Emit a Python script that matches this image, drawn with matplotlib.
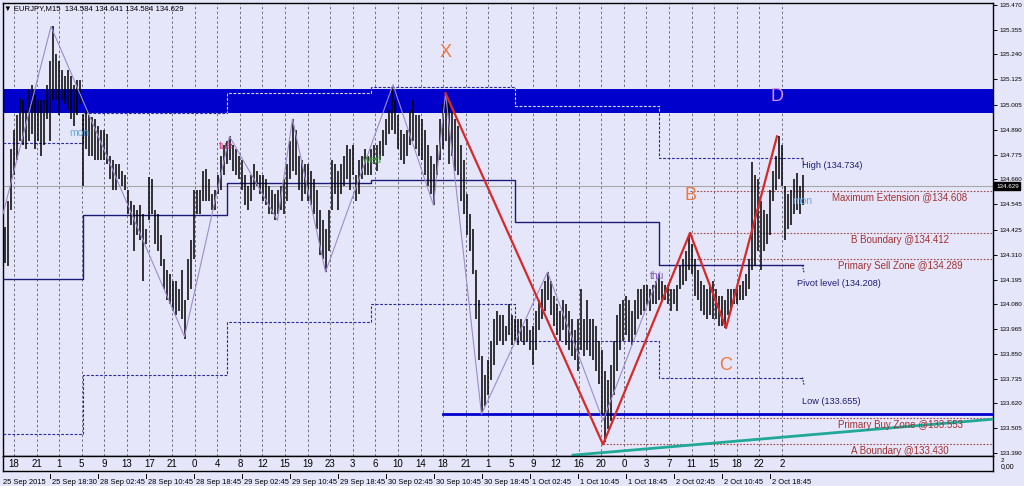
import numpy as np
import matplotlib
matplotlib.use("Agg")
import matplotlib.pyplot as plt
from matplotlib.transforms import blended_transform_factory
from matplotlib.patches import Rectangle

# ---------------- data ----------------
highs = [134.44, 134.56, 134.80, 134.89, 134.96, 135.04, 135.03, 134.98, 135.08, 135.10,
         135.05, 135.03, 135.03, 135.03, 135.10, 135.21, 135.37, 135.24, 135.21, 135.17,
         135.14, 135.17, 135.14, 135.10, 135.12, 135.12, 134.96, 134.98, 134.96, 134.95,
         134.94, 134.91, 134.89, 134.89, 134.87, 134.77, 134.75, 134.73, 134.73, 134.70,
         134.68, 134.61, 134.56, 134.54, 134.52, 134.54, 134.50, 134.43, 134.67, 134.66,
         134.52, 134.50, 134.40, 134.29, 134.24, 134.22, 134.19, 134.19, 134.15, 134.24,
         134.10, 134.29, 134.38, 134.61, 134.61, 134.61, 134.70, 134.71, 134.66, 134.59,
         134.61, 134.68, 134.77, 134.82, 134.84, 134.86, 134.82, 134.80, 134.77, 134.75,
         134.68, 134.63, 134.68, 134.73, 134.70, 134.68, 134.68, 134.66, 134.63, 134.61,
         134.59, 134.61, 134.63, 134.66, 134.73, 134.84, 134.94, 134.89, 134.77, 134.75,
         134.73, 134.73, 134.70, 134.66, 134.61, 134.52, 134.47, 134.43, 134.52, 134.75,
         134.73, 134.70, 134.73, 134.77, 134.82, 134.80, 134.82, 134.68, 134.75, 134.77,
         134.80, 134.77, 134.80, 134.82, 134.82, 134.84, 134.89, 134.94, 134.98, 135.09,
         135.03, 134.96, 134.89, 134.87, 134.89, 134.98, 135.03, 134.96, 134.96, 134.94,
         134.89, 134.82, 134.77, 134.73, 134.82, 134.94, 135.01, 135.06, 135.03, 134.98,
         134.94, 134.91, 134.82, 134.75, 134.59, 134.50, 134.43, 134.24, 134.10, 133.84,
         133.75, 133.82, 133.91, 134.01, 134.05, 134.03, 134.03, 133.98, 134.08, 134.03,
         134.01, 134.01, 134.01, 133.98, 134.01, 133.96, 133.98, 134.05, 134.10, 134.15,
         134.19, 134.23, 134.19, 134.12, 134.08, 134.05, 134.10, 134.08, 134.05, 134.01,
         133.96, 134.01, 134.15, 134.01, 134.10, 134.01, 134.01, 133.98, 133.91, 133.87,
         133.77, 133.73, 133.80, 133.91, 134.03, 134.08, 134.10, 134.12, 134.10, 134.05,
         134.10, 134.15, 134.15, 134.17, 134.17, 134.15, 134.17, 134.19, 134.22, 134.19,
         134.17, 134.17, 134.15, 134.15, 134.17, 134.26, 134.29, 134.33, 134.40, 134.36,
         134.29, 134.24, 134.19, 134.17, 134.15, 134.17, 134.19, 134.15, 134.12, 134.12,
         134.10, 134.15, 134.15, 134.15, 134.15, 134.17, 134.19, 134.22, 134.29, 134.74,
         134.68, 134.66, 134.56, 134.52, 134.50, 134.61, 134.70, 134.77, 134.86, 134.82,
         134.63, 134.59, 134.61, 134.66, 134.69, 134.63, 134.68]
lows = [134.27, 134.26, 134.52, 134.68, 134.75, 134.84, 134.82, 134.80, 134.84, 134.87,
        134.80, 134.84, 134.77, 134.82, 134.94, 134.84, 135.03, 135.03, 134.96, 135.03,
        135.01, 134.98, 134.94, 134.91, 134.96, 135.01, 134.63, 134.80, 134.77, 134.77,
        134.75, 134.75, 134.75, 134.75, 134.73, 134.66, 134.61, 134.61, 134.66, 134.63,
        134.61, 134.50, 134.45, 134.33, 134.40, 134.38, 134.19, 134.36, 134.47, 134.50,
        134.36, 134.33, 134.26, 134.15, 134.10, 134.08, 134.05, 134.03, 134.05, 134.01,
        133.92, 134.10, 134.15, 134.29, 134.50, 134.50, 134.56, 134.56, 134.56, 134.52,
        134.52, 134.59, 134.61, 134.68, 134.73, 134.75, 134.70, 134.68, 134.66, 134.61,
        134.54, 134.52, 134.56, 134.61, 134.63, 134.59, 134.56, 134.54, 134.50, 134.50,
        134.47, 134.50, 134.52, 134.50, 134.56, 134.66, 134.70, 134.68, 134.61, 134.56,
        134.59, 134.56, 134.54, 134.50, 134.43, 134.31, 134.29, 134.23, 134.33, 134.52,
        134.59, 134.52, 134.59, 134.63, 134.66, 134.61, 134.68, 134.56, 134.59, 134.66,
        134.68, 134.68, 134.68, 134.73, 134.70, 134.75, 134.77, 134.82, 134.87, 134.89,
        134.87, 134.80, 134.75, 134.73, 134.77, 134.82, 134.84, 134.80, 134.77, 134.75,
        134.68, 134.63, 134.59, 134.54, 134.68, 134.75, 134.80, 134.84, 134.73, 134.77,
        134.70, 134.68, 134.56, 134.50, 134.40, 134.33, 134.22, 134.01, 133.82, 133.58,
        133.61, 133.66, 133.73, 133.80, 133.89, 133.91, 133.89, 133.91, 133.94, 133.89,
        133.91, 133.89, 133.91, 133.89, 133.91, 133.87, 133.80, 133.87, 133.96, 134.01,
        134.05, 134.10, 134.03, 133.98, 133.94, 133.91, 133.96, 133.89, 133.87, 133.84,
        133.82, 133.77, 133.87, 133.84, 133.87, 133.84, 133.82, 133.77, 133.71, 133.57,
        133.44, 133.50, 133.54, 133.66, 133.77, 133.87, 133.91, 133.94, 133.91, 133.89,
        133.94, 134.01, 134.03, 134.05, 134.08, 134.05, 134.08, 134.08, 134.10, 134.10,
        134.10, 134.08, 134.05, 134.08, 134.05, 134.15, 134.17, 134.19, 134.24, 134.22,
        134.12, 134.10, 134.05, 134.03, 134.01, 134.03, 134.01, 134.01, 133.98, 133.98,
        133.97, 134.03, 134.05, 134.08, 134.08, 134.10, 134.10, 134.12, 134.15, 134.24,
        134.26, 134.33, 134.24, 134.33, 134.36, 134.40, 134.56, 134.61, 134.66, 134.63,
        134.38, 134.43, 134.45, 134.50, 134.52, 134.50, 134.54]
last_price = 134.629

# ZigZag swing points (bar index, price)
zigzag_t = [0, 32, 121, 151, 183, 193, 215, 260, 287, 295, 319, 363, 400, 438]
zigzag_p = [134.50, 135.37, 133.93, 134.86, 134.47, 134.94, 134.23, 135.10,
            134.54, 135.06, 133.57, 134.23, 133.54, 134.23]

# XABCD pattern (bar index, price)
pattern_names = ["X", "A", "B", "C", "D"]
pattern_t = [295, 400, 458, 482, 516]
pattern_p = [135.06, 133.43, 134.412, 133.97, 134.86]

# daily levels
day_edges = [0, 53, 149, 245, 341, 437, 533]
pivot_levels = [134.20, 134.495, 134.643, 134.657, 134.462, 134.262]
day_highs = [134.83, 134.97, 135.06, 135.09, 135.00, 134.76]
day_lows = [133.48, 133.75, 134.00, 134.08, 133.91, 133.74]

# harmonic levels
level_names = ["Maximum Extension @134.608", "B Boundary @134.412",
               "Primary Sell Zone @134.289", "Primary Buy Zone @133.553",
               "A Boundary @133.430"]
level_values = [134.608, 134.412, 134.289, 133.553, 133.430]
level_start = [458, 458, 458, 400, 400]

zone_band = [134.97, 135.08]
support_level = 133.57
support_start = 293
trend_t = [380, 660]
trend_p = [133.38, 133.547]

# day labels
day_tags = ["mon", "tue", "wed", "thu", "mon"]
day_tag_t = [51, 149, 246, 436, 533]
day_tag_p = [134.875, 134.815, 134.75, 134.21, 134.56]

hour_labels = ["18", "21", "1", "5", "9", "13", "17", "21", "0", "4", "8", "12",
               "15", "19", "23", "3", "6", "10", "14", "18", "21", "1", "5", "9",
               "12", "16", "20", "0", "3", "7", "11", "15", "18", "22", "2"]
date_labels = ["25 Sep 18:30", "28 Sep 02:45", "28 Sep 10:45", "28 Sep 18:45",
               "29 Sep 02:45", "29 Sep 10:45", "29 Sep 18:45", "30 Sep 02:45",
               "30 Sep 10:45", "30 Sep 18:45", "1 Oct 02:45", "1 Oct 10:45",
               "1 Oct 18:45", "2 Oct 02:45", "2 Oct 10:45", "2 Oct 18:45"]
price_ticks = [135.470, 135.355, 135.240, 135.125, 135.005, 134.890, 134.775,
               134.660, 134.545, 134.425, 134.310, 134.195, 134.080, 133.965,
               133.850, 133.735, 133.620, 133.505, 133.390]

# ---------------- drawing ----------------
plt.rcParams['font.family'] = ['Liberation Sans', 'DejaVu Sans']
BG = '#E6E6FA'
NAVY = '#1C1C78'
W, H = 1024, 486
fig = plt.figure(figsize=(W / 100, H / 100), dpi=100, facecolor=BG)
ax = fig.add_axes([3 / W, (H - 456) / H, 990 / W, 453 / H])
ax.set_facecolor(BG)
XMAX = 660
ax.set_xlim(0, XMAX)
ax.set_ylim(133.376, 135.479)

# vertical grid
grid_t = np.linspace(7.3, 519.3, len(hour_labels))
for g in grid_t:
    ax.axvline(g, color='#6E6E80', lw=0.7, ls=(0, (2.5, 2.5)), zorder=1)

# blue band
ax.axhspan(zone_band[0], zone_band[1], color='#0000CD', lw=0, zorder=2)
band_clip = Rectangle((0, zone_band[0]), XMAX, zone_band[1] - zone_band[0],
                      transform=ax.transData)

# current price line
ax.axhline(last_price, color='#A8A8A8', lw=0.8, zorder=2)

# daily step lines
def steps(vals):
    return day_edges, list(vals) + [vals[-1]]

x, y = steps(pivot_levels)
ax.plot(x, y, drawstyle='steps-post', color=NAVY, lw=1.0, zorder=3)
for vals in (day_highs, day_lows):
    x, y = steps(vals)
    ax.plot(x, y, drawstyle='steps-post', color='#2A2A9A', lw=0.8,
            ls=(0, (2.5, 1.5)), zorder=3)
    ln, = ax.plot(x, y, drawstyle='steps-post', color='#D8D8F8', lw=0.8,
                  ls=(0, (2.5, 1.5)), zorder=3.1)
    ln.set_clip_path(band_clip)

end_t = day_edges[-1]
for val in (day_highs[-1], pivot_levels[-1], day_lows[-1]):
    ax.plot([end_t, end_t + 1], [val, val - 0.035], color=NAVY, lw=0.8,
            ls=(0, (1.5, 1)), zorder=3)
ax.text(end_t - 0.5, day_highs[-1] - 0.035, "High (134.734)", color=NAVY,
        fontsize=6.6, va='center', ha='left', zorder=6)
ax.text(end_t - 3.5, pivot_levels[-1] - 0.085, "Pivot level (134.208)", color=NAVY,
        fontsize=6.6, va='center', ha='left', zorder=6)
ax.text(end_t, day_lows[-1] - 0.11, "Low (133.655)", color=NAVY,
        fontsize=6.6, va='center', ha='left', zorder=6)

# harmonic levels
for name, val, st in zip(level_names, level_values, level_start):
    ax.plot([st, XMAX], [val, val], color='#A04848', lw=0.8, ls=(0, (1.5, 1.5)),
            zorder=3)
    ax.annotate(name, (598, val), xytext=(0, -1.2), textcoords='offset points',
                ha='center', va='top', fontsize=7, color='#A03030', zorder=6)

# support + trend
ax.plot([support_start, XMAX], [support_level, support_level], color='#0000CD',
        lw=2.0, zorder=4)
ax.plot(trend_t, trend_p, color='#20A898', lw=2.0, zorder=4, clip_on=True)

# price bars
bar_t = 1 + 2 * np.arange(len(highs))
ax.vlines(bar_t, lows, highs, color='black', lw=1.1, zorder=5)

# zigzag
ax.plot(zigzag_t, zigzag_p, color='#9C8CC8', lw=0.8, zorder=5.5)

# pattern
ax.plot(pattern_t, pattern_p, color='#D42A2A', lw=1.6, zorder=6)
label_off = {"X": 29, "B": 27, "C": -27, "D": 29}
label_col = {"X": '#F07840', "B": '#F07840', "C": '#F07840', "D": '#D890E8'}
for n, t, p in zip(pattern_names, pattern_t, pattern_p):
    if n in label_off:
        ax.annotate(n, (t, p), xytext=(0, label_off[n]), textcoords='offset points',
                    ha='center', va='center', fontsize=13, color=label_col[n],
                    zorder=7)

# day tags
tag_cols = ['#68A8E0', '#D03070', '#40A040', '#8060C0', '#68A8E0']
for tg, t, p, c in zip(day_tags, day_tag_t, day_tag_p, tag_cols):
    ax.text(t, p, tg, color=c, fontsize=7.5, ha='center', va='center', zorder=6)

# axis styling
for s in ax.spines.values():
    s.set_color('black')
    s.set_linewidth(1.0)
ax.set_xticks([])
ax.yaxis.tick_right()
ax.set_yticks(price_ticks)
ax.set_yticklabels([f"{v:.3f}" for v in price_ticks])
ax.tick_params(axis='y', length=3, width=0.7, pad=1.5, labelsize=4.5, colors='black')

# current price tag
ax.annotate(f"{last_price:.3f}", (1.0, last_price),
            xycoords=blended_transform_factory(ax.transAxes, ax.transData),
            xytext=(2.2, 0), textcoords='offset points', ha='left', va='center',
            fontsize=4.5, color='white', zorder=10, annotation_clip=False,
            bbox=dict(boxstyle='square,pad=0.25', fc='black', ec='black'))

# hour strip
ax2 = fig.add_axes([3 / W, (H - 471) / H, 990 / W, 15 / H])
ax2.set_facecolor(BG)
ax2.set_xlim(0, XMAX)
ax2.set_ylim(0, 1)
ax2.set_xticks([])
ax2.set_yticks([])
for s in ax2.spines.values():
    s.set_color('black')
    s.set_linewidth(1.0)
for g, lab in zip(grid_t, hour_labels):
    ax2.text(g, 0.5, lab, ha='center', va='center', fontsize=7, color='black')

# date labels
tr = blended_transform_factory(ax.transData, fig.transFigure)
fig.text(3 / W, 1 - 482 / H, "25 Sep 2015", fontsize=5.4, va='center', ha='left')
date_t = 31.3 + 32 * np.arange(len(date_labels))
for t, lab in zip(date_t, date_labels):
    ax.plot([t, t], [1 - 474 / H, 1 - 478 / H], transform=tr, color='black',
            lw=0.7, clip_on=False)
    ax.text(t + 1.5, 1 - 482 / H, lab, transform=tr, fontsize=5.4, va='center',
            ha='left', clip_on=False)

# title and corner text
fig.text(4 / W, 1 - 9 / H, "\u25BC EURJPY,M15  134.584 134.641 134.584 134.629",
         fontsize=5.6, va='center', ha='left', color='black')
fig.text(1001 / W, 1 - 460 / H, "2", fontsize=4.5, va='center', ha='left')
fig.text(1001 / W, 1 - 467 / H, "0,00", fontsize=5, va='center', ha='left')

fig.savefig("out.png", dpi=100, facecolor=BG)
